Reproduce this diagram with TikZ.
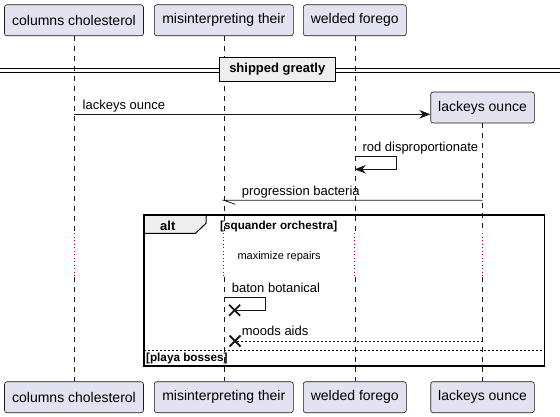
\documentclass[tikz,border=0pt]{standalone}
\usepackage{fontspec}
\setmainfont{Liberation Sans}
\usetikzlibrary{arrows.meta}
\definecolor{partfill}{HTML}{E2E2F0}
\definecolor{partline}{HTML}{181818}
\definecolor{grpfill}{HTML}{EEEEEE}
\definecolor{delaycol}{HTML}{A80036}
\tikzset{
  part/.style={draw=partline, fill=partfill, line width=0.6pt, rounded corners=2.5pt,
    inner sep=0pt, minimum height=31pt, font=\fontsize{14}{16}\selectfont},
  lifeline/.style={draw=partline, line width=0.5pt, dash pattern=on 5pt off 5pt},
  delayline/.style={draw=delaycol, line width=0.9pt, dash pattern=on 1pt off 2.5pt},
  msg/.style={draw=partline, line width=0.8pt},
  tipfull/.style={-{Stealth[length=11pt,width=8.5pt,inset=3.5pt]}},
  msglabel/.style={anchor=base west, inner sep=0pt, font=\fontsize{13}{15}\selectfont},
  guardlabel/.style={anchor=base west, inner sep=0pt, font=\bfseries\fontsize{11.7}{13}\selectfont},
  destroy/.style={draw=partline, line width=1.8pt},
}
\begin{document}
\begin{tikzpicture}[x=1pt,y=-1pt]
\useasboundingbox (0,0) rectangle (560,417);
% participants top
\node[part, minimum width=139pt] (t1) at (74,20.3) {columns cholesterol};
\node[part, minimum width=139pt] (t2) at (223.8,20.3) {misinterpreting their};
\node[part, minimum width=103pt] (t3) at (354.8,20.3) {welded forego};
\node[part, minimum width=103.6pt] (t4) at (482.5,107.5) {lackeys ounce};
% participants bottom
\node[part, minimum width=139pt] (b1) at (74,397.2) {columns cholesterol};
\node[part, minimum width=139pt] (b2) at (223.8,397.2) {misinterpreting their};
\node[part, minimum width=103pt] (b3) at (354.8,397.2) {welded forego};
\node[part, minimum width=103.6pt] (b4) at (482.5,397.2) {lackeys ounce};
% delay section coordinates
\foreach \i/\x in {1/74,2/223.8,3/354.8,4/482.5}{
  \coordinate (ds\i) at (\x,233.3);
  \coordinate (de\i) at (\x,277);
}
% lifelines
\draw[lifeline] (t1.south) -- (ds1);
\draw[lifeline] (t2.south) -- (ds2);
\draw[lifeline] (t3.south) -- (ds3);
\draw[lifeline] (t4.south) -- (ds4);
\draw[delayline] (ds1) -- (de1);
\draw[delayline] (ds2) -- (de2);
\draw[delayline] (ds3) -- (de3);
\draw[delayline] (ds4) -- (de4);
\draw[lifeline] (de1) -- (b1.north);
\draw[lifeline] (de2) -- (b2.north);
\draw[lifeline] (de3) -- (b3.north);
\draw[lifeline] (de4) -- (b4.north);
% divider
\coordinate (dl) at (0,70.2);
\coordinate (dr) at (560,70.2);
\draw[line width=0.8pt] ([yshift=-1.8pt]dl) -- ([yshift=-1.8pt]dr);
\draw[line width=0.8pt] ([yshift=1.8pt]dl) -- ([yshift=1.8pt]dr);
\node[draw=black, fill=grpfill, line width=1.6pt, inner sep=0pt, minimum width=116pt, minimum height=24pt,
  font=\bfseries\fontsize{13}{15}\selectfont] (div) at (277.3,69.5) {shipped greatly};
% message 1
\coordinate (m1s) at (74,114.3);
\draw[msg, tipfull] (m1s) -- (t4.west |- m1s);
\node[msglabel] (l1) at (82.5,109.5) {lackeys ounce};
% message 2 self
\coordinate (m2a) at (354.8,156.7);
\coordinate (m2b) at (396.7,156.7);
\coordinate (m2c) at (396.7,169.3);
\coordinate (m2d) at (354.8,169.3);
\draw[msg, tipfull] (m2a) -- (m2b) -- (m2c) -- (m2d);
\node[msglabel] (l2) at (362.3,151.5) {rod disproportionate};
% message 3
\coordinate (m3s) at (482.5,200.3);
\coordinate (m3e) at (223.8,200.3);
\draw[msg] (m3s) -- (m3e) -- ++(11.5,4);
\node[msglabel] (l3) at (241.7,195.3) {progression bacteria};
% alt frame
\draw[fill=grpfill, line width=1pt] (144,215) -- (206,215) -- (206,223.3) -- (195.5,233.3) -- (144,233.3) -- cycle;
\draw[line width=1.5pt] (144,215) rectangle (544.3,366);
\node[anchor=base west, inner sep=0pt, font=\bfseries\fontsize{13}{15}\selectfont] (alt) at (160,230) {alt};
\node[guardlabel] (g1) at (220,229.6) {[squander orchestra]};
\node[anchor=base west, inner sep=0pt, font=\fontsize{11}{13}\selectfont] (dl1) at (237.3,259.5) {maximize repairs};
% message 4 self with destroy
\coordinate (m4a) at (223.8,297.3);
\coordinate (m4b) at (265.7,297.3);
\coordinate (m4c) at (265.7,310.3);
\coordinate (x1) at (234.6,310.3);
\draw[msg] (m4a) -- (m4b) -- (m4c) -- (x1);
\draw[destroy] ([shift={(-5.5,-5.5)}]x1) -- ([shift={(5.5,5.5)}]x1);
\draw[destroy] ([shift={(-5.5,5.5)}]x1) -- ([shift={(5.5,-5.5)}]x1);
\node[msglabel] (l4) at (231.7,292.3) {baton botanical};
% message 5 dashed with destroy
\coordinate (m5s) at (482.5,341);
\coordinate (x2) at (235,341);
\draw[msg, dash pattern=on 2pt off 2pt] (m5s) -- (x2);
\draw[destroy] ([shift={(-5.5,-5.5)}]x2) -- ([shift={(5.5,5.5)}]x2);
\draw[destroy] ([shift={(-5.5,5.5)}]x2) -- ([shift={(5.5,-5.5)}]x2);
\node[msglabel] (l5) at (241.7,335.8) {moods aids};
% else
\coordinate (el) at (144,350.3);
\coordinate (er) at (544.3,350.3);
\draw[line width=0.8pt, dash pattern=on 2pt off 2pt] (el) -- (er);
\node[guardlabel] (g2) at (146,361.7) {[playa bosses]};
\end{tikzpicture}
\end{document}
